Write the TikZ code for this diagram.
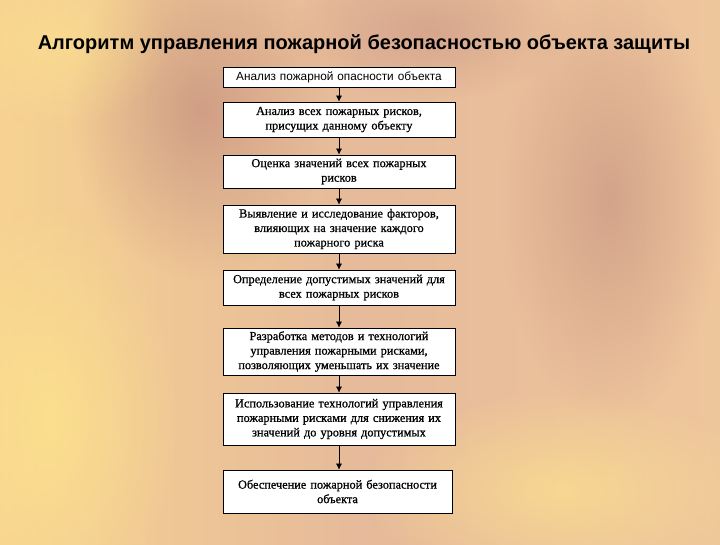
\documentclass[tikz,border=0pt]{standalone}
\usepackage{fontspec}
\setmainfont{Liberation Serif}[BoldFont=Liberation Serif, BoldFeatures={FakeBold=0.8}]
\newfontfamily\arialfont{Liberation Sans}
\usetikzlibrary{arrows.meta,fadings}
\tikzfading[name=softblob, inner color=transparent!0, outer color=transparent!100]
\definecolor{bgleft}{RGB}{246,210,146}
\definecolor{bgmid}{RGB}{230,186,154}
\definecolor{bgright}{RGB}{238,198,156}
\definecolor{patchA}{RGB}{188,132,122}
\definecolor{patchB}{RGB}{255,230,140}
\begin{document}
\begin{tikzpicture}[x=1pt,y=-1pt,
  stepbox/.style={draw=black, line width=0.8pt, fill=white, minimum width=232pt,
    text width=230pt, align=center, inner sep=1pt,
    font=\bfseries\fontsize{12.3}{14.5}\selectfont},
  flowarrow/.style={-{Latex[length=6pt,width=6pt]}, line width=0.6pt, draw=black},
  blob/.style={path fading=softblob}]
\useasboundingbox (0,0) rectangle (720,544);
\shade[left color=bgleft, right color=bgright, middle color=bgmid] (0,0) rectangle (720,544);
\fill[patchA, opacity=0.6, blob] (200,110) ellipse (130pt and 170pt);
\fill[patchA, opacity=0.5, blob] (610,200) ellipse (110pt and 220pt);
\fill[patchA, opacity=0.4, blob] (430,30) ellipse (140pt and 70pt);
\fill[patchB, opacity=0.7, blob] (50,420) ellipse (130pt and 220pt);
\fill[patchB, opacity=0.6, blob] (560,490) ellipse (200pt and 100pt);
\fill[patchB, opacity=0.5, blob] (60,40) ellipse (110pt and 90pt);

\node[font=\arialfont\bfseries\fontsize{20}{24}\selectfont, anchor=base] (title) at (364,49)
  {Алгоритм управления пожарной безопасностью объекта защиты};

\node[stepbox, minimum height=20pt, font=\arialfont\mdseries\fontsize{11.8}{14}\selectfont] (b1) at (339,77)
  {Анализ пожарной опасности объекта};
\node[stepbox, minimum height=35pt] (b2) at (339,119.5)
  {Анализ всех пожарных рисков,\\присущих данному объекту};
\node[stepbox, minimum height=33pt] (b3) at (339,171.5)
  {Оценка значений всех пожарных\\рисков};
\node[stepbox, minimum height=48pt] (b4) at (339,229)
  {Выявление и исследование факторов,\\влияющих на значение каждого\\пожарного риска};
\node[stepbox, minimum height=35pt] (b5) at (339,287.5)
  {Определение допустимых значений для\\всех пожарных рисков};
\node[stepbox, minimum height=47pt] (b6) at (339,351.5)
  {Разработка методов и технологий\\управления пожарными рисками,\\позволяющих уменьшать их значение};
\node[stepbox, minimum height=52pt] (b7) at (339,419)
  {Использование технологий управления\\пожарными рисками для снижения их\\значений до уровня допустимых};
\node[stepbox, minimum height=43pt, minimum width=229pt, text width=227pt] (b8) at (337.5,491.5)
  {Обеспечение пожарной безопасности\\объекта};

\foreach \a/\b in {b1/b2,b2/b3,b3/b4,b4/b5,b5/b6,b6/b7}
  \draw[flowarrow] (\a.south) -- (\b.north);
\draw[flowarrow] (b7.south) -- (b7.south |- b8.north);
\end{tikzpicture}
\end{document}
